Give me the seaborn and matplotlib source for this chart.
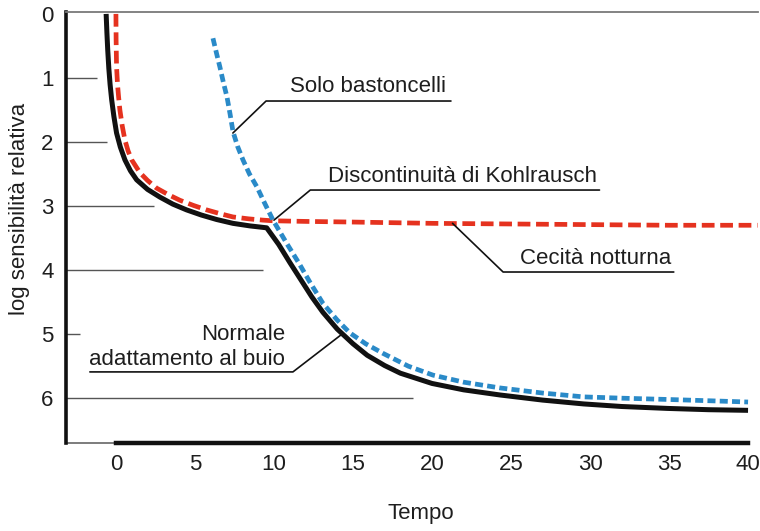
import matplotlib
matplotlib.use("Agg")
import matplotlib.pyplot as plt
import seaborn as sns
import pandas as pd

# ---- data ----
normal_x = [-0.62, -0.57, -0.52, -0.45, -0.37, -0.27, -0.13, 0.04, 0.28, 0.57, 0.92, 1.31,
            2.0, 2.78, 3.6, 4.47, 5.4, 6.37, 7.4, 8.48, 9.54,
            10.3, 11.0, 11.7, 12.4, 13.1, 14.0, 15.0, 15.9, 17.0, 18.0, 20.0, 22.0,
            24.3, 27.0, 29.6, 32.0, 34.9, 37.5, 40.0]
normal_y = [0.0, 0.3, 0.56, 0.85, 1.1, 1.34, 1.6, 1.86, 2.08, 2.28, 2.45, 2.59,
            2.74, 2.86, 2.97, 3.06, 3.14, 3.21, 3.27, 3.31, 3.34,
            3.6, 3.88, 4.15, 4.42, 4.66, 4.92, 5.15, 5.33, 5.49, 5.61, 5.77, 5.87,
            5.95, 6.03, 6.09, 6.13, 6.16, 6.18, 6.19]

night_x = [0.0, 0.01, 0.04, 0.1, 0.17, 0.25, 0.4, 0.57, 0.77, 1.0, 1.52, 2.0, 2.57,
           3.3, 4.05, 4.9, 5.74, 6.6, 7.4, 8.4, 9.3, 9.94,
           12.0, 15.0, 20.0, 25.0, 30.0, 35.0, 40.6]
night_y = [0.0, 0.4, 0.83, 1.1, 1.3, 1.5, 1.75, 1.97, 2.14, 2.28, 2.48, 2.6, 2.72,
           2.82, 2.91, 2.99, 3.06, 3.12, 3.17, 3.2, 3.22, 3.23,
           3.24, 3.25, 3.27, 3.28, 3.29, 3.30, 3.30]

rods_x = [6.14, 6.36, 6.58, 6.8, 7.03, 7.22, 7.41, 7.7, 8.04, 8.45, 8.92, 9.4, 9.94,
          10.8, 11.6, 12.3, 13.1, 14.0, 14.8, 15.8, 16.9, 18.5, 20.06, 22.0,
          24.3, 27.0, 29.6, 32.0, 34.9, 37.5, 40.0]
rods_y = [0.38, 0.61, 0.83, 1.07, 1.3, 1.56, 1.84, 2.07, 2.28, 2.5, 2.7, 2.95, 3.22,
          3.58, 3.9, 4.2, 4.52, 4.78, 4.98, 5.15, 5.3, 5.5, 5.64, 5.75,
          5.84, 5.92, 5.98, 6.0, 6.02, 6.04, 6.06]

x_ticks = [0, 5, 10, 15, 20, 25, 30, 35, 40]
y_ticks = [0, 1, 2, 3, 4, 5, 6]

# ---- style ----
sns.set_style("white")
plt.rcParams['font.family'] = ['Liberation Sans', 'DejaVu Sans']
TXT = '#1e1e1e'
FS = 16

fig = plt.figure(figsize=(7.6, 5.31), dpi=100)
ax = fig.add_axes([66 / 760, 1 - 443 / 531, 692 / 760, (443 - 12) / 531])

XL, XR = -3.16, 40.63
YB, YT = 6.70, -0.03
ax.set_xlim(XL, XR)
ax.set_ylim(YB, YT)

# y guide lines of different lengths
guide_ends = [None, -1.2, -0.57, 2.4, 9.3, -2.3, 18.8]
for yv, xe in zip(y_ticks, guide_ends):
    if xe is not None:
        ax.hlines(yv, XL, xe, color='#555555', lw=1.0, zorder=1)

df_n = pd.DataFrame({'Tempo': normal_x, 'v': normal_y})
df_r = pd.DataFrame({'Tempo': night_x, 'v': night_y})
df_b = pd.DataFrame({'Tempo': rods_x, 'v': rods_y})

sns.lineplot(data=df_n, x='Tempo', y='v', sort=False, estimator=None, ax=ax,
             color='#111111', lw=3.6, zorder=3)
ax.lines[-1].set_solid_capstyle('butt')
ax.lines[-1].set_solid_joinstyle('round')
sns.lineplot(data=df_r, x='Tempo', y='v', sort=False, estimator=None, ax=ax,
             color='#e5321f', lw=3.4, zorder=4)
ax.lines[-1].set_linestyle((0, (2.7, 1.2)))
ax.lines[-1].set_dash_capstyle('butt')
sns.lineplot(data=df_b, x='Tempo', y='v', sort=False, estimator=None, ax=ax,
             color='#2a8ac8', lw=3.4, zorder=5)
ax.lines[-1].set_linestyle((0, (1.7, 0.9)))
ax.lines[-1].set_dash_capstyle('butt')

# spines
ax.spines['right'].set_visible(False)
ax.spines['top'].set_color('#7a7a7a')
ax.spines['top'].set_linewidth(1.3)
ax.spines['left'].set_color('#111111')
ax.spines['left'].set_linewidth(2.6)
ax.spines['bottom'].set_color('#111111')
ax.spines['bottom'].set_linewidth(3.2)
ax.spines['bottom'].set_bounds(0, 40)
ax.hlines(YB, XL, 0, color='#666666', lw=1.2, zorder=2, clip_on=False)

ax.set_xticks(x_ticks)
ax.set_yticks(y_ticks)
ax.tick_params(axis='x', direction='in', length=12, width=1.0, color='#555555',
               labelsize=FS, labelcolor=TXT, pad=8)
ax.tick_params(axis='y', length=0, labelsize=FS, labelcolor=TXT, pad=9)

ax.set_xlabel('Tempo', fontsize=FS, color=TXT)
ax.xaxis.set_label_coords(0.513, -0.14)
ax.set_ylabel('log sensibilità relativa', fontsize=FS, color=TXT)
ax.yaxis.set_label_coords(-0.052, 0.543)
ax.grid(False)

# annotations with leader lines
lk = dict(color='#111111', lw=1.2, zorder=6)
ax.plot([21.2, 9.5, 7.4], [1.36, 1.36, 1.86], **lk)
ax.text(11.0, 1.22, 'Solo bastoncelli', fontsize=FS, color=TXT, ha='left', va='baseline')

ax.plot([30.6, 12.3, 10.0], [2.75, 2.75, 3.22], **lk)
ax.text(13.4, 2.62, 'Discontinuità di Kohlrausch', fontsize=FS, color=TXT, ha='left', va='baseline')

ax.plot([21.3, 24.5, 35.3], [3.27, 4.03, 4.03], **lk)
ax.text(25.6, 3.91, 'Cecità notturna', fontsize=FS, color=TXT, ha='left', va='baseline')

ax.plot([-1.65, 11.2, 14.2], [5.59, 5.59, 5.02], **lk)
ax.text(10.7, 5.48, 'Normale\nadattamento al buio', fontsize=FS, color=TXT,
        ha='right', va='baseline', multialignment='right', linespacing=1.25)

fig.savefig('out.png', dpi=100)
